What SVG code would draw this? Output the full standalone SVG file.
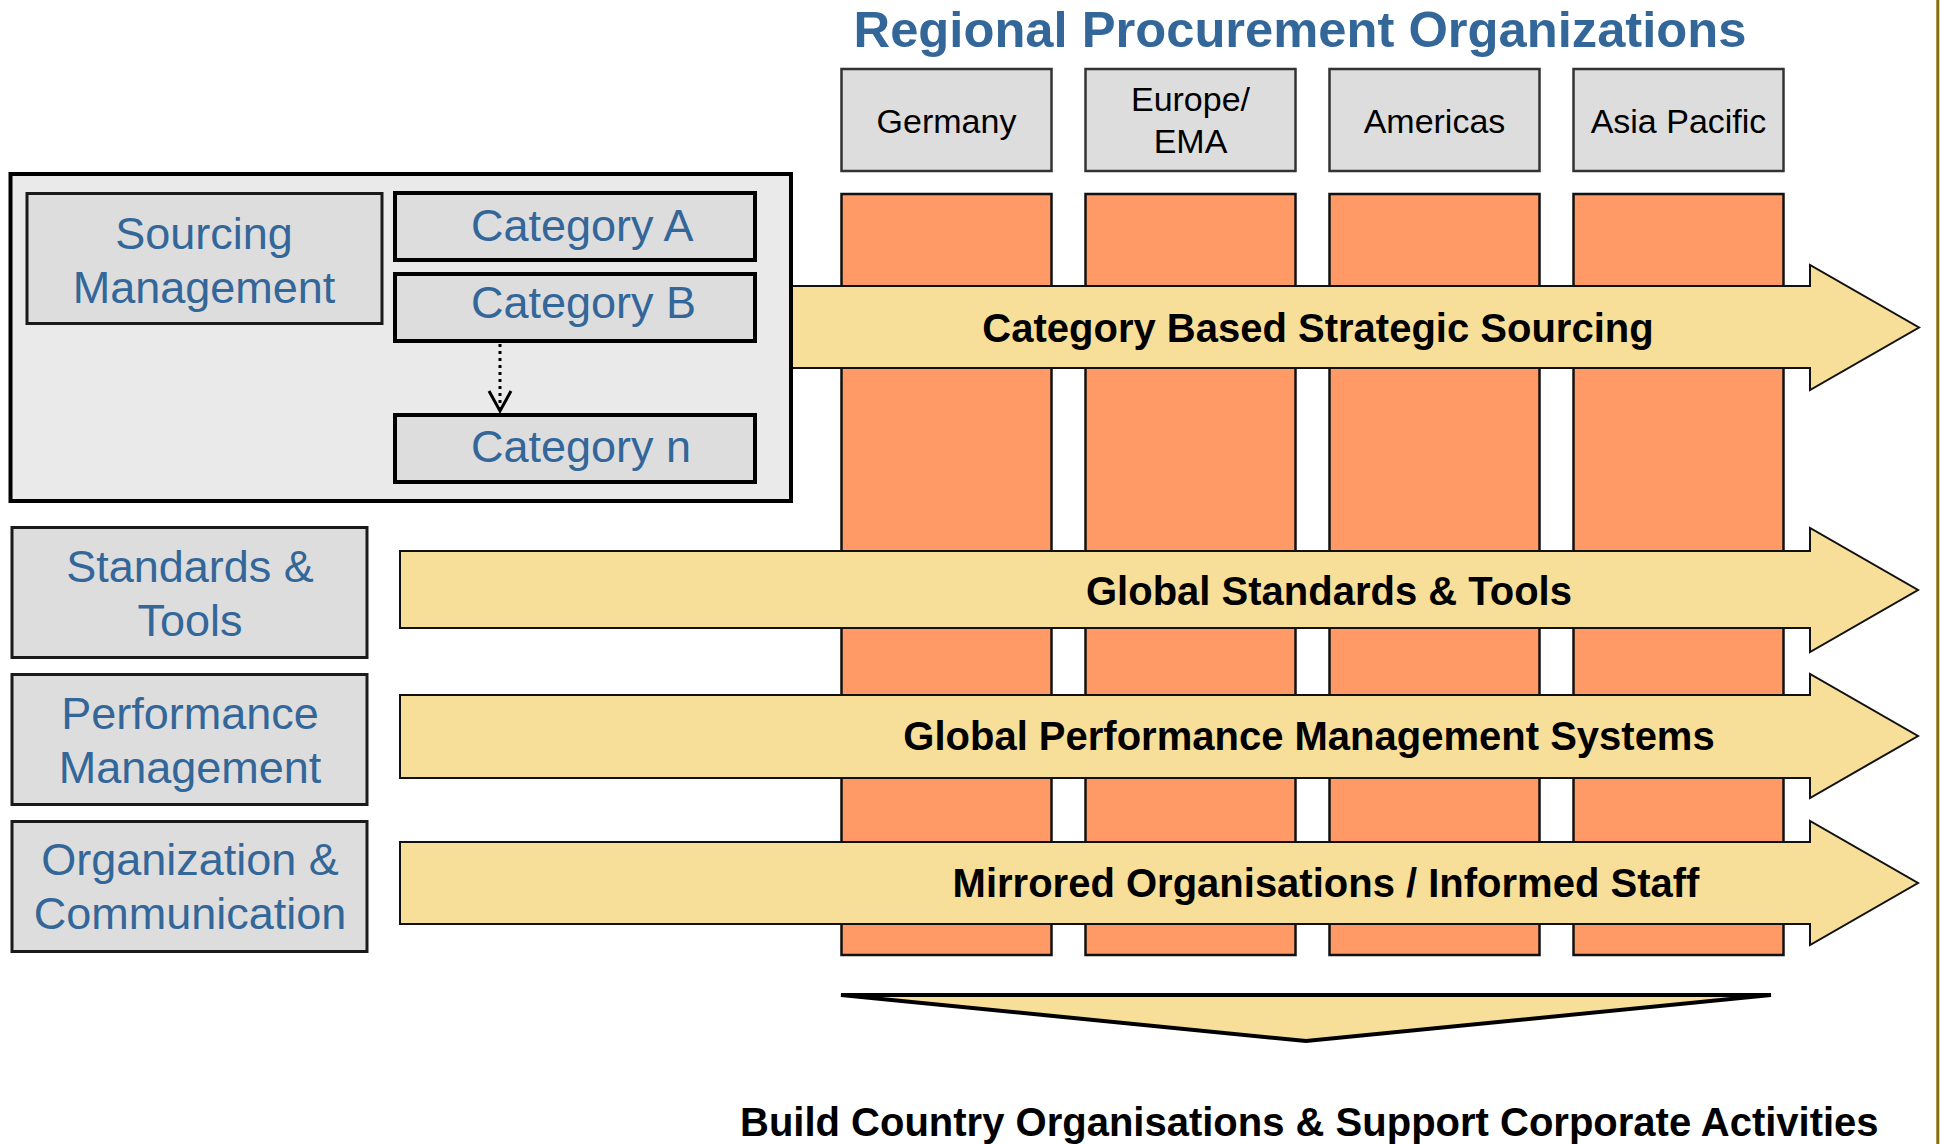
<svg xmlns="http://www.w3.org/2000/svg" width="1940" height="1144" viewBox="0 0 1940 1144">
<style>
.col{fill:#FF9966;stroke:#111;stroke-width:2.5}
.hdr{fill:#DDDDDD;stroke:#333;stroke-width:2.5}
.bar{fill:#F7DF99;stroke:#111;stroke-width:2}
.lbox{fill:#DDDDDD;stroke:#1a1a1a;stroke-width:3}
.cat{fill:#DDDDDD;stroke:#000;stroke-width:4}
.ht{font-family:"Liberation Sans",Arial,sans-serif;font-size:34px;fill:#000;text-anchor:middle}
.bt{font-family:"Liberation Sans",Arial,sans-serif;font-size:40px;font-weight:bold;fill:#000;text-anchor:middle}
.blue{font-family:"Liberation Sans",Arial,sans-serif;font-size:45px;fill:#336699;text-anchor:middle}
.start{text-anchor:start}
</style>
<rect x="0" y="0" width="1940" height="1144" fill="#FFFFFF"/>
<line x1="1937.8" y1="0" x2="1937.8" y2="1144" stroke="#8A6D0B" stroke-width="3"/>
<text x="1300" y="47" font-family="Liberation Sans,Arial,sans-serif" font-size="50.7" font-weight="bold" fill="#336699" text-anchor="middle">Regional Procurement Organizations</text>
<g id="region-germany">
<rect class="hdr" x="841.5" y="69" width="210" height="102"/>
<text class="ht" x="946.5" y="133">Germany</text>
<rect class="col" x="841.5" y="194" width="210" height="761"/>
</g>
<g id="region-europe">
<rect class="hdr" x="1085.5" y="69" width="210" height="102"/>
<text class="ht" x="1190.5" y="111">Europe/</text>
<text class="ht" x="1190.5" y="153">EMA</text>
<rect class="col" x="1085.5" y="194" width="210" height="761"/>
</g>
<g id="region-americas">
<rect class="hdr" x="1329.5" y="69" width="210" height="102"/>
<text class="ht" x="1434.5" y="133">Americas</text>
<rect class="col" x="1329.5" y="194" width="210" height="761"/>
</g>
<g id="region-asia">
<rect class="hdr" x="1573.5" y="69" width="210" height="102"/>
<text class="ht" x="1678.5" y="133">Asia Pacific</text>
<rect class="col" x="1573.5" y="194" width="210" height="761"/>
</g>
<g id="arrow-sourcing">
<polygon class="bar" points="791,286 1810,286 1810,265 1919,327.5 1810,390 1810,368 791,368"/>
<text class="bt" x="1318" y="342">Category Based Strategic Sourcing</text>
</g>
<g id="arrow-standards">
<polygon class="bar" points="400,551 1810,551 1810,528 1918,590 1810,652 1810,628 400,628"/>
<text class="bt" x="1329" y="605">Global Standards &amp; Tools</text>
</g>
<g id="arrow-performance">
<polygon class="bar" points="400,695 1810,695 1810,674 1918,736 1810,798 1810,778 400,778"/>
<text class="bt" x="1309" y="750">Global Performance Management Systems</text>
</g>
<g id="arrow-organisation">
<polygon class="bar" points="400,842 1810,842 1810,821 1918,883 1810,945 1810,924 400,924"/>
<text class="bt" x="1326" y="897">Mirrored Organisations / Informed Staff</text>
</g>
<g id="sourcing-group">
<rect x="10.5" y="174" width="780.5" height="327" fill="#EAEAEA" stroke="#000" stroke-width="4"/>
</g>
<g id="sourcing-management">
<rect class="lbox" x="27" y="193.5" width="355" height="130"/>
<text class="blue" x="204" y="249">Sourcing</text>
<text class="blue" x="204" y="303">Management</text>
</g>
<g id="category-a">
<rect class="cat" x="395" y="193" width="360" height="67"/>
<text class="blue start" x="471" y="241">Category A</text>
</g>
<g id="category-b">
<rect class="cat" x="395" y="274" width="360" height="67"/>
<text class="blue start" x="471" y="317.5">Category B</text>
</g>
<g id="category-n">
<rect class="cat" x="395" y="415" width="360" height="67"/>
<text class="blue start" x="471" y="461.5">Category n</text>
</g>
<g id="standards-tools">
<rect class="lbox" x="12" y="527.5" width="355" height="130"/>
<text class="blue" x="190" y="582">Standards &amp;</text>
<text class="blue" x="190" y="636">Tools</text>
</g>
<g id="performance-management">
<rect class="lbox" x="12" y="674.5" width="355" height="130"/>
<text class="blue" x="190" y="729">Performance</text>
<text class="blue" x="190" y="783">Management</text>
</g>
<g id="organization-communication">
<rect class="lbox" x="12" y="821.5" width="355" height="130"/>
<text class="blue" x="190" y="874.5">Organization &amp;</text>
<text class="blue" x="190" y="929">Communication</text>
</g>
<g id="build-country">
<polygon points="841,995 1771,995 1306,1041" fill="#F7DF99" stroke="#000" stroke-width="4" stroke-linejoin="miter"/>
<text x="740" y="1136" font-family="Liberation Sans,Arial,sans-serif" font-size="40" font-weight="bold" fill="#000">Build Country Organisations &amp; Support Corporate Activities</text>
</g>
<g id="connectors">
<line x1="500" y1="344" x2="500" y2="408" stroke="#000" stroke-width="3" stroke-dasharray="3,4"/>
<polyline points="489,391 500,411 511,391" fill="none" stroke="#000" stroke-width="3"/>
</g>
</svg>
